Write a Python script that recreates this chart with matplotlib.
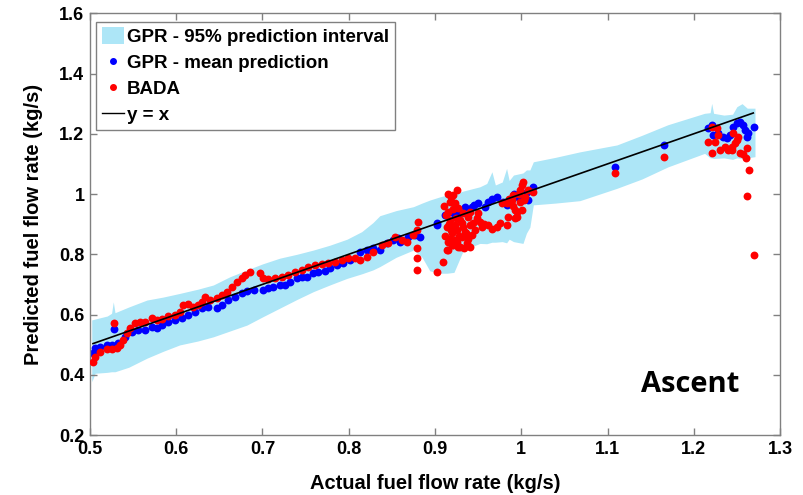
import numpy as np
import matplotlib.pyplot as plt
from matplotlib.patches import Patch
from matplotlib.lines import Line2D
from matplotlib.ticker import FuncFormatter

# 95% prediction interval of the GPR (x, lower, upper)
band_x = [0.502, 0.506, 0.520, 0.525, 0.527, 0.529, 0.545, 0.566, 0.585, 0.604,
          0.625, 0.643, 0.662, 0.682, 0.700, 0.720, 0.740, 0.759, 0.778, 0.798,
          0.815, 0.828, 0.836, 0.855, 0.875, 0.885, 0.894, 0.905, 0.914, 0.922,
          0.933, 0.952, 0.960, 0.966, 0.970, 0.978, 0.983, 0.986, 0.991, 1.002,
          1.006, 1.010, 1.014, 1.040, 1.068, 1.111, 1.140, 1.170, 1.2126, 1.219,
          1.2208, 1.223, 1.235, 1.245, 1.250, 1.256, 1.262, 1.271]
band_lo = [0.377, 0.405, 0.408, 0.410, 0.410, 0.410, 0.425, 0.455, 0.478, 0.499,
           0.512, 0.526, 0.545, 0.565, 0.592, 0.621, 0.650, 0.676, 0.698, 0.720,
           0.735, 0.748, 0.759, 0.790, 0.814, 0.790, 0.745, 0.737, 0.737, 0.740,
           0.814, 0.836, 0.835, 0.840, 0.840, 0.842, 0.838, 0.850, 0.842, 0.836,
           0.870, 0.890, 0.964, 0.970, 0.978, 1.019, 1.050, 1.090, 1.135, 1.120,
           1.120, 1.118, 1.120, 1.115, 1.120, 1.118, 1.120, 1.124]
band_hi = [0.582, 0.585, 0.595, 0.604, 0.642, 0.606, 0.625, 0.648, 0.658, 0.670,
           0.684, 0.698, 0.725, 0.748, 0.768, 0.787, 0.800, 0.814, 0.830, 0.850,
           0.875, 0.905, 0.928, 0.945, 0.958, 0.970, 0.980, 0.990, 0.997, 1.000,
           1.010, 1.024, 1.035, 1.074, 1.030, 1.040, 1.085, 1.045, 1.063, 1.070,
           1.080, 1.080, 1.107, 1.122, 1.140, 1.163, 1.195, 1.230, 1.268, 1.270,
           1.301, 1.268, 1.262, 1.265, 1.290, 1.300, 1.285, 1.285]

# GPR mean prediction
gpr_x = [0.5038, 0.5058, 0.5116, 0.5194, 0.5252, 0.5282, 0.5328, 0.5406, 0.5483, 0.556,
         0.5638, 0.5715, 0.5773, 0.5831, 0.5908, 0.5986, 0.6063, 0.614, 0.6217, 0.6295,
         0.6372, 0.6469, 0.6527, 0.6603, 0.6681, 0.6759, 0.6817, 0.690, 0.7009, 0.7067,
         0.7125, 0.7203, 0.7261, 0.7319, 0.7397, 0.7455, 0.7513, 0.7589, 0.7647, 0.7725,
         0.7783, 0.786, 0.7937, 0.8014, 0.813, 0.8208, 0.8285, 0.8362, 0.844, 0.8517,
         0.8574, 0.8594, 0.869, 0.8768, 0.8826, 0.902, 0.902, 0.9116, 0.9174, 0.9232,
         0.929, 0.9348, 0.9426, 0.9502, 0.958, 0.9618, 0.9715, 0.9792, 0.9831, 0.987,
         0.9966, 1.0063, 1.014, 1.0082, 0.920, 0.926, 0.945, 0.966, 0.992,
         1.1087, 1.1655,
         1.2169, 1.2208, 1.2227, 1.2285, 1.2343, 1.2382, 1.242, 1.2458, 1.2498, 1.2536,
         1.2575, 1.2594, 1.2633, 1.2614, 1.2702]
gpr_y = [0.471, 0.488, 0.493, 0.499, 0.499, 0.551, 0.504, 0.526, 0.543, 0.549,
         0.549, 0.559, 0.554, 0.565, 0.576, 0.582, 0.587, 0.598, 0.609, 0.621,
         0.626, 0.621, 0.632, 0.648, 0.659, 0.670, 0.678, 0.683, 0.681, 0.687,
         0.692, 0.698, 0.698, 0.709, 0.720, 0.723, 0.723, 0.739, 0.742, 0.745,
         0.753, 0.764, 0.770, 0.781, 0.809, 0.814, 0.820, 0.814, 0.836, 0.847,
         0.853, 0.842, 0.858, 0.864, 0.858, 0.897, 0.903, 0.930, 0.941, 0.930,
         0.936, 0.958, 0.958, 0.969, 0.958, 0.975, 0.991, 0.975, 0.964, 0.980,
         0.991, 1.008, 1.024, 0.980, 0.945, 0.950, 0.962, 0.985, 1.000,
         1.091, 1.163,
         1.218, 1.229, 1.196, 1.202, 1.190, 1.185, 1.196, 1.224, 1.235, 1.240,
         1.229, 1.213, 1.202, 1.190, 1.221]

# BADA model
bada_x = [0.5038, 0.5058, 0.5116, 0.5194, 0.5252, 0.5282, 0.531, 0.5348, 0.5386, 0.5426,
          0.5464, 0.5522, 0.558, 0.5638, 0.5715, 0.5773, 0.5831, 0.5908, 0.5986, 0.6043,
          0.6082, 0.614, 0.6198, 0.6256, 0.6295, 0.6333, 0.6391, 0.6469, 0.6527, 0.6585,
          0.6643, 0.6701, 0.6759, 0.6797, 0.6855, 0.6971, 0.7009, 0.7067, 0.7145, 0.7223,
          0.7299, 0.7377, 0.7455, 0.7531, 0.7609, 0.7686, 0.7763, 0.7841, 0.7918, 0.7995,
          0.8072, 0.813, 0.8208, 0.8285, 0.8382, 0.8459, 0.8536, 0.8614, 0.8672, 0.8748,
          0.8788, 0.8806, 0.8788, 0.8788, 0.8788, 0.902, 0.9096, 0.9136,
          0.9252, 0.9213, 0.9174, 0.9232, 0.9154, 0.927, 0.9174, 0.9136, 0.9232, 0.9194,
          0.9154, 0.9232, 0.9154, 0.927, 0.9194, 0.9328, 0.9386, 0.931, 0.9406, 0.9348,
          0.931, 0.9426, 0.9368, 0.929, 0.9406, 0.9484, 0.9522, 0.9541, 0.9464, 0.9502,
          0.9618, 0.9715, 0.9831, 0.9773, 0.9831, 0.9889, 0.9928, 0.9947, 1.0005, 0.9908,
          0.9986, 1.0005, 1.0024, 0.9986, 1.0043, 1.0082, 1.014, 0.985, 0.993,
          0.911, 0.913, 0.916, 0.918, 0.912, 0.917, 0.921, 0.925, 0.928, 0.926,
          0.929, 0.933, 0.936, 0.938, 0.934, 0.924, 0.921, 0.919, 0.915, 0.944,
          0.941, 0.957, 0.966, 0.975, 0.990, 0.995, 0.997, 1.003, 0.986,
          1.1087, 1.1655,
          1.2208, 1.2266, 1.2169, 1.2208, 1.2246, 1.2285, 1.2304, 1.2362, 1.2401, 1.244,
          1.2478, 1.2458, 1.2498, 1.2517, 1.244, 1.2536, 1.2575, 1.2606, 1.2621, 1.2644,
          1.2614, 1.2699]
bada_y = [0.443, 0.460, 0.476, 0.484, 0.484, 0.571, 0.488, 0.499, 0.515, 0.537,
          0.554, 0.571, 0.576, 0.576, 0.587, 0.582, 0.584, 0.595, 0.598, 0.609,
          0.632, 0.635, 0.624, 0.632, 0.642, 0.659, 0.648, 0.654, 0.665, 0.676,
          0.692, 0.709, 0.720, 0.731, 0.742, 0.737, 0.720, 0.717, 0.720, 0.726,
          0.731, 0.742, 0.748, 0.759, 0.764, 0.768, 0.770, 0.775, 0.781, 0.787,
          0.787, 0.781, 0.792, 0.809, 0.831, 0.836, 0.858, 0.847, 0.842, 0.864,
          0.881, 0.908, 0.820, 0.787, 0.748, 0.742, 0.775, 0.814,
          1.013, 0.997, 0.975, 0.969, 0.941, 0.953, 0.914, 0.891, 0.897, 0.870,
          0.842, 0.847, 0.814, 0.825, 0.831, 0.936, 0.925, 0.903, 0.897, 0.875,
          0.858, 0.864, 0.836, 0.825, 0.825, 0.919, 0.908, 0.891, 0.881, 0.936,
          0.897, 0.891, 0.897, 0.969, 0.969, 0.980, 0.947, 0.925, 0.947, 0.997,
          1.013, 1.030, 1.041, 0.975, 0.991, 1.013, 1.008, 0.925, 0.919,
          0.960, 0.930, 0.900, 0.880, 0.860, 0.850, 0.830, 0.840, 0.860, 0.880,
          0.915, 0.890, 0.870, 0.850, 0.820, 0.920, 0.950, 0.990, 1.000, 0.905,
          0.940, 0.900, 0.885, 0.905, 0.960, 0.940, 1.000, 0.980, 0.985,
          1.069, 1.122,
          1.224, 1.218, 1.174, 1.137, 1.174, 1.196, 1.146, 1.157, 1.146, 1.157,
          1.168, 1.202, 1.179, 1.190, 1.146, 1.135, 1.133, 1.119, 1.152, 1.080,
          0.993, 0.799]

line_x = [0.5035, 1.269]

xticks = [0.5, 0.6, 0.7, 0.8, 0.9, 1.0, 1.1, 1.2, 1.3]
yticks = [0.2, 0.4, 0.6, 0.8, 1.0, 1.2, 1.4, 1.6]

band_color = '#ade6f7'
grey = '#808080'

plt.rcParams['font.family'] = ['Liberation Sans', 'DejaVu Sans']
plt.rcParams['font.weight'] = 'bold'

fig = plt.figure(figsize=(8.04, 4.95), dpi=100)
ax = fig.add_axes([90 / 804, 60 / 495, 690 / 804, 421.7 / 495])

ax.fill_between(band_x, band_lo, band_hi, color=band_color, lw=0, zorder=1)
ax.scatter(gpr_x, gpr_y, s=32, color='#0000ff', lw=0, zorder=2)
ax.scatter(bada_x, bada_y, s=32, color='#ff0000', lw=0, zorder=3)
ax.plot(line_x, line_x, color='black', lw=1.2, zorder=4)

ax.set_xlim(0.5, 1.3)
ax.set_ylim(0.2, 1.6)
ax.set_xticks(xticks)
ax.set_yticks(yticks)
fmt = FuncFormatter(lambda v, pos: '%g' % v)
ax.xaxis.set_major_formatter(fmt)
ax.yaxis.set_major_formatter(fmt)
ax.tick_params(direction='in', length=5, width=1, color=grey, top=True, right=True,
               labelsize=13, pad=4)
for s in ax.spines.values():
    s.set_color(grey)
    s.set_linewidth(1)

ax.set_xlabel('Actual fuel flow rate (kg/s)', fontsize=14.5, fontweight='bold', labelpad=12)
ax.set_ylabel('Predicted fuel flow rate (kg/s)', fontsize=14.5, fontweight='bold', labelpad=12)

ax.text(0.87, 0.119, 'Ascent', transform=ax.transAxes, ha='center', va='center',
        fontsize=21, fontweight='bold', family=['Open Sans', 'DejaVu Sans'])

handles = [
    Patch(facecolor=band_color, edgecolor='none'),
    Line2D([], [], ls='none', marker='o', ms=4, color='#0000ff'),
    Line2D([], [], ls='none', marker='o', ms=4, color='#ff0000'),
    Line2D([], [], color='black', lw=1),
]
labels = ['GPR - 95% prediction interval', 'GPR - mean prediction', 'BADA', 'y = x']
leg = ax.legend(handles, labels, loc='upper left', bbox_to_anchor=(0.0087, 0.980),
                borderaxespad=0, fontsize=13.5, frameon=True, fancybox=False,
                edgecolor=grey, framealpha=1, handlelength=1.2, handleheight=1.0,
                handletextpad=0.15, labelspacing=0.38, borderpad=0.3)
leg.get_frame().set_linewidth(1)

fig.savefig('out.png', dpi=100)
